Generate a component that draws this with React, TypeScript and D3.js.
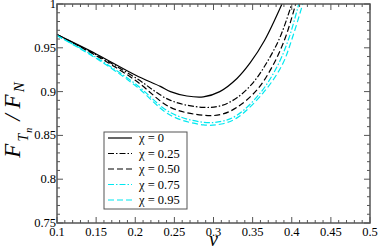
import React from "react";
import * as d3 from "d3";

const W = 379;
const H = 250;
const margin = { left: 57, right: 9, top: 4, bottom: 27 };

// chi = 0
const nu0 = [0.1, 0.15, 0.2, 0.232, 0.245, 0.266, 0.287, 0.308, 0.33, 0.347, 0.365, 0.3875];
const f0 = [0.965, 0.943, 0.919, 0.906, 0.9, 0.895, 0.894, 0.9, 0.915, 0.933, 0.958, 1.0];

// chi = 0.25
const nu25 = [0.1, 0.15, 0.2, 0.245, 0.287, 0.31, 0.33, 0.3505, 0.368, 0.385, 0.4];
const f25 = [0.965, 0.942, 0.916, 0.89, 0.882, 0.884, 0.893, 0.91, 0.933, 0.962, 1.0];

// chi = 0.50
const nu50 = [0.1, 0.15, 0.2, 0.245, 0.287, 0.31, 0.33, 0.3556, 0.376, 0.392, 0.405];
const f50 = [0.965, 0.941, 0.913, 0.882, 0.873, 0.874, 0.882, 0.902, 0.93, 0.962, 1.0];

// chi = 0.75
const nu75 = [0.1, 0.15, 0.2, 0.245, 0.287, 0.31, 0.33, 0.3594, 0.381, 0.396, 0.409];
const f75 = [0.964, 0.939, 0.909, 0.876, 0.865, 0.866, 0.873, 0.898, 0.928, 0.96, 1.0];

// chi = 0.95
const nu95 = [0.1, 0.15, 0.2, 0.245, 0.287, 0.31, 0.33, 0.363, 0.3875, 0.401, 0.414];
const f95 = [0.964, 0.938, 0.907, 0.873, 0.862, 0.863, 0.87, 0.898, 0.93, 0.962, 1.0];

const xTicks = [0.1, 0.15, 0.2, 0.25, 0.3, 0.35, 0.4, 0.45, 0.5];
const yTicks = [0.75, 0.8, 0.85, 0.9, 0.95, 1];

const cyan = "#00e8f0";

const series = [
  { label: "χ = 0", nu: nu0, f: f0, color: "#000", dash: "none" },
  { label: "χ = 0.25", nu: nu25, f: f25, color: "#000", dash: "6,2,1.5,2" },
  { label: "χ = 0.50", nu: nu50, f: f50, color: "#000", dash: "6,3" },
  { label: "χ = 0.75", nu: nu75, f: f75, color: cyan, dash: "6,2,1.5,2" },
  { label: "χ = 0.95", nu: nu95, f: f95, color: cyan, dash: "6,3" },
];

export default function App() {
  const x = d3.scaleLinear().domain([0.1, 0.5]).range([margin.left, W - margin.right]);
  const y = d3.scaleLinear().domain([0.75, 1]).range([H - margin.bottom, margin.top]);

  const line = d3
    .line<[number, number]>()
    .x((d) => x(d[0]))
    .y((d) => y(d[1]))
    .curve(d3.curveCatmullRom.alpha(0.5));

  const xMinor = d3.range(0, 41).map((i) => 0.1 + i * 0.01);
  const yMinor = d3.range(0, 26).map((i) => 0.75 + i * 0.01);

  const x0 = margin.left;
  const x1 = W - margin.right;
  const y0 = H - margin.bottom;
  const y1 = margin.top;
  const axisColor = "#555";
  const font = "'Liberation Serif', 'Times New Roman', 'DejaVu Serif', serif";

  const lg = { x: 104, y: 132, w: 83, h: 77 };

  return (
    <svg width={W} height={H} style={{ position: "absolute", left: 0, top: 0 }}>
      <g fontFamily={font}>
        <defs>
          <clipPath id="plot">
            <rect x={x0} y={y1} width={x1 - x0} height={y0 - y1} />
          </clipPath>
        </defs>
        <rect x={0} y={0} width={W} height={H} fill="#fff" />

        <g clipPath="url(#plot)">
          {series.map((s) => (
            <path
              key={s.label}
              d={line(s.nu.map((v, i) => [v, s.f[i]] as [number, number])) || ""}
              fill="none"
              stroke={s.color}
              strokeWidth={1.2}
              strokeDasharray={s.dash}
            />
          ))}
        </g>

        {/* ticks on all four sides, pointing in */}
        {xMinor.map((v, i) => {
          const len = i % 5 === 0 ? 6 : 3;
          return (
            <g key={"xt" + i} stroke={axisColor} strokeWidth={1}>
              <line x1={x(v)} x2={x(v)} y1={y0} y2={y0 - len} />
              <line x1={x(v)} x2={x(v)} y1={y1} y2={y1 + len} />
            </g>
          );
        })}
        {yMinor.map((v, i) => {
          const len = i % 5 === 0 ? 6 : 3;
          return (
            <g key={"yt" + i} stroke={axisColor} strokeWidth={1}>
              <line x1={x0} x2={x0 + len} y1={y(v)} y2={y(v)} />
              <line x1={x1} x2={x1 - len} y1={y(v)} y2={y(v)} />
            </g>
          );
        })}
        <rect x={x0} y={y1} width={x1 - x0} height={y0 - y1} fill="none" stroke={axisColor} strokeWidth={1.5} />

        {xTicks.map((v) => (
          <text key={"xl" + v} x={x(v)} y={y0 + 13} textAnchor="middle" fontSize={12.5}>
            {String(v)}
          </text>
        ))}
        {yTicks.map((v) => (
          <text key={"yl" + v} x={x0 - 1} y={y(v) + 4} textAnchor="end" fontSize={12.5}>
            {String(v)}
          </text>
        ))}

        <text x={(x0 + x1) / 2} y={H - 4} textAnchor="middle" fontSize={20} fontStyle="italic">
          ν
        </text>

        <g transform={`translate(20, 120) rotate(-90)`}>
          <text textAnchor="middle" fontSize={23} fontStyle="italic">
            F
            <tspan fontSize={14} dx={2} dy={8}>T</tspan>
            <tspan fontSize={10} dx={1} dy={4}>n</tspan>
            <tspan dx={7} dy={-12}>/</tspan>
            <tspan dx={6}>F</tspan>
            <tspan fontSize={15} dx={2} dy={4}>N</tspan>
          </text>
        </g>

        {/* legend */}
        <rect x={lg.x} y={lg.y} width={lg.w} height={lg.h} fill="#fff" stroke={axisColor} strokeWidth={1} />
        {series.map((s, i) => {
          const ly = lg.y + 6 + i * 15.5;
          return (
            <g key={"lg" + i}>
              <line x1={lg.x + 4} x2={lg.x + 28} y1={ly} y2={ly} stroke={s.color} strokeWidth={1.2} strokeDasharray={s.dash} />
              <text x={lg.x + 35} y={ly + 4} fontSize={12.5}>
                {s.label}
              </text>
            </g>
          );
        })}
      </g>
    </svg>
  );
}
